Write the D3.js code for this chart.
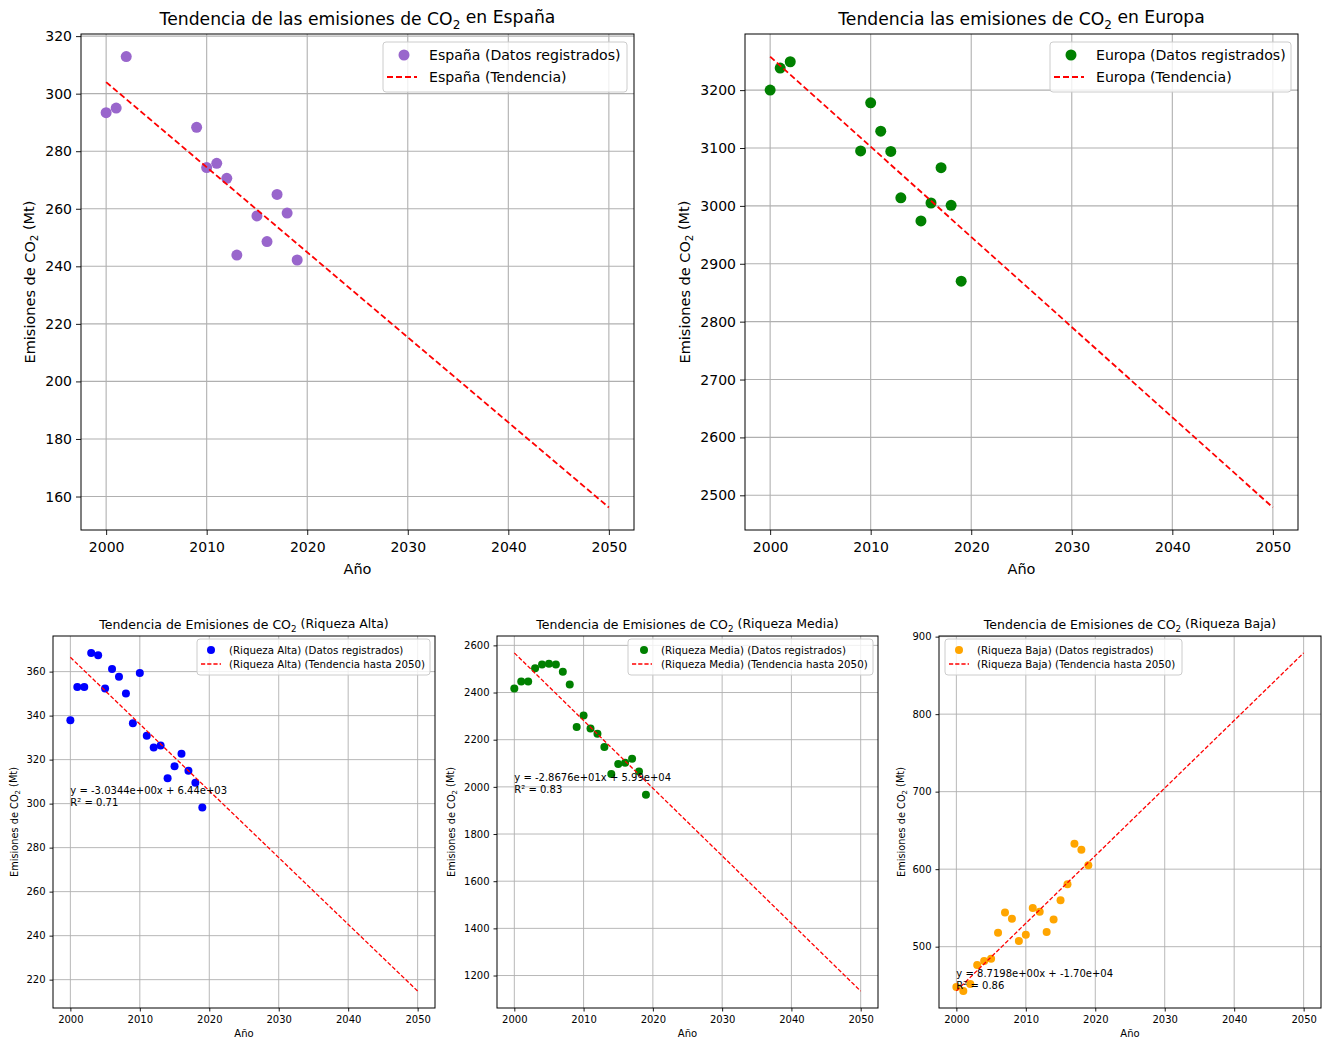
<html>
<head>
<script src="https://cdn.jsdelivr.net/npm/d3@7"></script>
<style>
  body { margin: 0; background: #fff; }
  text { font-family: "DejaVu Sans", sans-serif; fill: #000; }
</style>
</head>
<body>
<div id="chart"></div>
<script>
// --- datos ---
const aniosPais = [2000, 2001, 2002, 2009, 2010, 2011, 2012, 2013, 2015, 2016, 2017, 2018, 2019];
const emisionesEspana = [293.4, 295.0, 312.9, 288.3, 274.3, 275.8, 270.6, 243.9, 257.5, 248.6, 265.0, 258.5, 242.2];
const emisionesEuropa = [3200, 3238, 3249, 3095, 3178, 3129, 3094, 3014, 2974, 3005, 3066, 3001, 2870];

const aniosRiqueza = [2000, 2001, 2002, 2003, 2004, 2005, 2006, 2007, 2008, 2009,
                      2010, 2011, 2012, 2013, 2014, 2015, 2016, 2017, 2018, 2019];
const riquezaAlta = [337.9, 353.0, 353.0, 368.5, 367.4, 352.3, 361.2, 357.7, 350.0, 336.5,
                     359.4, 330.8, 325.5, 326.4, 311.5, 317.0, 322.7, 314.9, 309.5, 298.2];
const riquezaMedia = [2417, 2447, 2447, 2503, 2519, 2522, 2519, 2488, 2434, 2254,
                      2303, 2248, 2225, 2169, 2055, 2097, 2102, 2119, 2065, 1967];
const riquezaBaja = [448.0, 442.7, 452.0, 476.3, 481.4, 484.5, 518.0, 544.0, 536.0, 507.4,
                     515.5, 550.0, 545.0, 519.0, 535.0, 560.0, 580.6, 632.8, 625.0, 605.0];

// tendencias: valor en el primer y el ultimo anio
const aniosTendencia = [2000, 2050];
const tendEspana = [304.0, 156.2];
const tendEuropa = [3258, 2479];
const tendAlta = [366.5, 214.8];
const tendMedia = [2568, 1134];
const tendBaja = [443, 879];

const ticksX = [2000, 2010, 2020, 2030, 2040, 2050];
const ticksEspana = [160, 180, 200, 220, 240, 260, 280, 300, 320];
const ticksEuropa = [2500, 2600, 2700, 2800, 2900, 3000, 3100, 3200];
const ticksAlta = [220, 240, 260, 280, 300, 320, 340, 360];
const ticksMedia = [1200, 1400, 1600, 1800, 2000, 2200, 2400, 2600];
const ticksBaja = [500, 600, 700, 800, 900];

const ecuaciones = ["y = -3.0344e+00x + 6.44e+03", "y = -2.8676e+01x + 5.99e+04", "y = 8.7198e+00x + -1.70e+04"];
const r2 = ["R² = 0.71", "R² = 0.83", "R² = 0.86"];

const W = 1325, H = 1039;
const svg = d3.select("#chart").append("svg").attr("width", W).attr("height", H);

function co2(sel, before, after) {
  sel.append("tspan").text(before + "CO");
  sel.append("tspan").attr("dy", "0.3em").attr("font-size", "70%").text("2");
  sel.append("tspan").attr("dy", "-0.3em").text(after);
}

function pad(ext) {
  const m = (ext[1] - ext[0]) * 0.05;
  return [ext[0] - m, ext[1] + m];
}

function panel(p) {
  const g = svg.append("g");
  const x = d3.scaleLinear().domain(pad([aniosTendencia[0], aniosTendencia[1]])).range([p.x0, p.x1]);
  const ext = d3.extent(p.values.concat(p.trend));
  const y = d3.scaleLinear().domain(pad(ext)).range([p.y1, p.y0]);

  // rejilla
  g.append("g").selectAll("line").data(ticksX).join("line")
    .attr("x1", d => x(d)).attr("x2", d => x(d)).attr("y1", p.y0).attr("y2", p.y1)
    .attr("stroke", "#b0b0b0").attr("stroke-width", p.gw);
  g.append("g").selectAll("line").data(p.ticksY).join("line")
    .attr("y1", d => y(d)).attr("y2", d => y(d)).attr("x1", p.x0).attr("x2", p.x1)
    .attr("stroke", "#b0b0b0").attr("stroke-width", p.gw);

  // ejes
  const ax = g.append("g").attr("transform", `translate(0,${p.y1})`)
    .call(d3.axisBottom(x).tickValues(ticksX).tickFormat(d3.format("d")).tickSize(p.tick).tickPadding(p.xpad));
  const ay = g.append("g").attr("transform", `translate(${p.x0},0)`)
    .call(d3.axisLeft(y).tickValues(p.ticksY).tickFormat(d3.format("d")).tickSize(p.tick).tickPadding(p.tpad));
  [ax, ay].forEach(a => {
    a.select(".domain").remove();
    a.selectAll("line").attr("stroke", "#000").attr("stroke-width", 0.9);
    a.selectAll("text").attr("font-size", p.fTick).attr("font-family", "DejaVu Sans").attr("fill", "#222");
  });

  // puntos
  const pts = p.years.map((d, i) => [d, p.values[i]]);
  g.append("g").selectAll("circle").data(pts).join("circle")
    .attr("cx", d => x(d[0])).attr("cy", d => y(d[1])).attr("r", p.r)
    .attr("fill", p.color);

  // tendencia
  const line = d3.line().x(d => x(d[0])).y(d => y(d[1]));
  g.append("path").datum(aniosTendencia.map((d, i) => [d, p.trend[i]]))
    .attr("d", line).attr("fill", "none").attr("stroke", "#ff0000")
    .attr("stroke-width", p.lw).attr("stroke-dasharray", p.dash);

  // marco
  g.append("rect").attr("x", p.x0).attr("y", p.y0).attr("width", p.x1 - p.x0).attr("height", p.y1 - p.y0)
    .attr("fill", "none").attr("stroke", "#000").attr("stroke-width", 1);

  // ecuacion
  if (p.eq) {
    const by = y(d3.min(p.values)) - 2;
    g.append("text").attr("x", x(p.years[0])).attr("y", by - p.fEq * 1.2).attr("font-size", p.fEq).text(p.eq[0]);
    g.append("text").attr("x", x(p.years[0])).attr("y", by).attr("font-size", p.fEq).text(p.eq[1]);
  }

  // titulo y etiquetas
  g.append("text").attr("x", (p.x0 + p.x1) / 2).attr("y", p.titleY).attr("text-anchor", "middle")
    .attr("font-size", p.fTitle).call(s => co2(s, p.title[0], p.title[1]));
  g.append("text").attr("x", (p.x0 + p.x1) / 2).attr("y", p.xLabY).attr("text-anchor", "middle")
    .attr("font-size", p.fLab).text("Año");
  g.append("text").attr("transform", `translate(${p.yLabX},${(p.y0 + p.y1) / 2}) rotate(-90)`)
    .attr("text-anchor", "middle").attr("font-size", p.fYLab)
    .call(s => co2(s, "Emisiones de ", " (Mt)"));

  // leyenda
  const L = p.leg;
  g.append("rect").attr("x", L.x).attr("y", L.y).attr("width", L.w).attr("height", L.h).attr("rx", 3)
    .attr("fill", "#fff").attr("fill-opacity", 0.8).attr("stroke", "#cccccc").attr("stroke-width", 1);
  g.append("circle").attr("cx", L.x + L.mx).attr("cy", L.r1).attr("r", p.r).attr("fill", p.color);
  g.append("line").attr("x1", L.x + L.l0).attr("x2", L.x + L.l1).attr("y1", L.r2).attr("y2", L.r2)
    .attr("stroke", "#ff0000").attr("stroke-width", p.lw).attr("stroke-dasharray", p.dash);
  g.append("text").attr("x", L.x + L.tx).attr("y", L.r1).attr("dy", "0.35em").attr("font-size", p.fLeg).text(p.labels[0]);
  g.append("text").attr("x", L.x + L.tx).attr("y", L.r2).attr("dy", "0.35em").attr("font-size", p.fLeg).text(p.labels[1]);
}

const cfgTop = { y0: 34, y1: 530, tick: 5, tpad: 4, xpad: 7, fTick: 14, fLab: 14.5, fYLab: 14.5, fTitle: 17.2, fLeg: 14.1,
  r: 5.5, lw: 1.8, dash: "6,3", gw: 1.1, titleY: 25, xLabY: 574 };
const cfgBot = { y0: 636, y1: 1008, tick: 3.5, tpad: 4, xpad: 4, fTick: 10, fLab: 10, fYLab: 9.8, fTitle: 12.5, fLeg: 10.25,
  r: 4, lw: 1.3, dash: "4.2,2", gw: 0.9, titleY: 629, xLabY: 1037, fEq: 10 };

panel(Object.assign({}, cfgTop, {
  x0: 81, x1: 634, yLabX: 35, years: aniosPais, values: emisionesEspana, trend: tendEspana,
  color: "#9966cc", ticksY: ticksEspana,
  title: ["Tendencia de las emisiones de ", " en España"],
  labels: ["España (Datos registrados)", "España (Tendencia)"],
  leg: { x: 383, y: 42, w: 244, h: 50, mx: 21, l0: 4, l1: 34, tx: 46, r1: 55, r2: 77 }
}));
panel(Object.assign({}, cfgTop, {
  x0: 745, x1: 1298, yLabX: 690, years: aniosPais, values: emisionesEuropa, trend: tendEuropa,
  color: "#008000", ticksY: ticksEuropa,
  title: ["Tendencia las emisiones de ", " en Europa"],
  labels: ["Europa (Datos registrados)", "Europa (Tendencia)"],
  leg: { x: 1050, y: 42, w: 241, h: 50, mx: 21, l0: 4, l1: 34, tx: 46, r1: 55, r2: 77 }
}));
panel(Object.assign({}, cfgBot, {
  x0: 53, x1: 435, yLabX: 18, years: aniosRiqueza, values: riquezaAlta, trend: tendAlta,
  color: "#0000ff", ticksY: ticksAlta, eq: [ecuaciones[0], r2[0]],
  title: ["Tendencia de Emisiones de ", " (Riqueza Alta)"],
  labels: ["(Riqueza Alta) (Datos registrados)", "(Riqueza Alta) (Tendencia hasta 2050)"],
  leg: { x: 197, y: 639, w: 233, h: 36, mx: 14, l0: 4, l1: 24, tx: 32, r1: 650, r2: 664 }
}));
panel(Object.assign({}, cfgBot, {
  x0: 497, x1: 878, yLabX: 455, years: aniosRiqueza, values: riquezaMedia, trend: tendMedia,
  color: "#008000", ticksY: ticksMedia, eq: [ecuaciones[1], r2[1]],
  title: ["Tendencia de Emisiones de ", " (Riqueza Media)"],
  labels: ["(Riqueza Media) (Datos registrados)", "(Riqueza Media) (Tendencia hasta 2050)"],
  leg: { x: 628, y: 639, w: 245, h: 36, mx: 16, l0: 4, l1: 24, tx: 33, r1: 650, r2: 664 }
}));
panel(Object.assign({}, cfgBot, {
  x0: 939, x1: 1321, yLabX: 905, years: aniosRiqueza, values: riquezaBaja, trend: tendBaja,
  color: "#ffa500", ticksY: ticksBaja, eq: [ecuaciones[2], r2[2]],
  title: ["Tendencia de Emisiones de ", " (Riqueza Baja)"],
  labels: ["(Riqueza Baja) (Datos registrados)", "(Riqueza Baja) (Tendencia hasta 2050)"],
  leg: { x: 945, y: 639, w: 237, h: 36, mx: 14, l0: 4, l1: 24, tx: 32, r1: 650, r2: 664 }
}));
</script>
</body>
</html>
